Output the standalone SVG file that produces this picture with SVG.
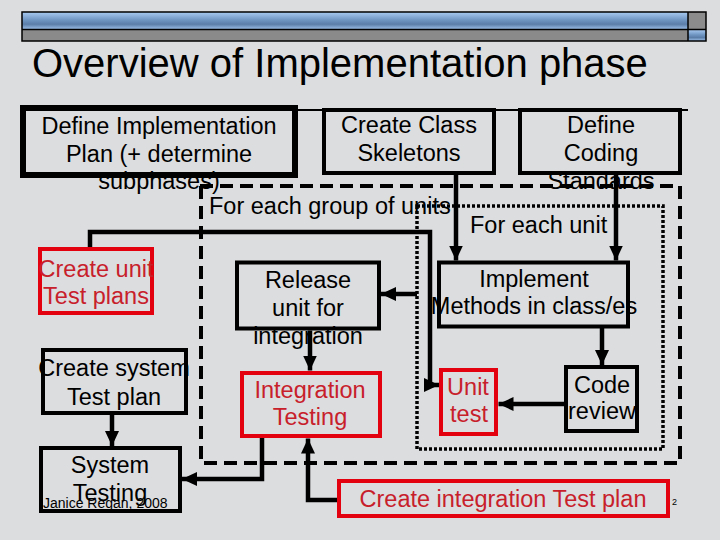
<svg xmlns="http://www.w3.org/2000/svg" width="720" height="540" viewBox="0 0 720 540">
<defs>
<linearGradient id="blue" x1="0" y1="0" x2="0" y2="1">
<stop offset="0" stop-color="#a9cbf2"/>
<stop offset="0.45" stop-color="#7096c2"/>
<stop offset="0.7" stop-color="#5a7ea8"/>
<stop offset="1" stop-color="#9fc3ec"/>
</linearGradient>
<marker id="ah" markerUnits="userSpaceOnUse" markerWidth="16" markerHeight="15" refX="15" refY="7" orient="auto">
<path d="M0,0 L15,7 L0,14 Z" fill="#000"/>
</marker>
<style>
text{font-family:"Liberation Sans",Arial,sans-serif;font-size:23.5px;fill:#000}
.c{text-anchor:middle}
.r{fill:#c8202b}
.box{fill:none;stroke:#000;stroke-width:4}
.rbox{fill:none;stroke:#e3000f;stroke-width:4}
.con{fill:none;stroke:#000;stroke-width:4.5;marker-end:url(#ah)}
.dash{fill:none;stroke:#000;stroke-width:4;stroke-dasharray:13 7}
.dot{fill:none;stroke:#000;stroke-width:3.5;stroke-dasharray:3 2}
</style>
</defs>
<rect width="720" height="540" fill="#dcdddf"/>
<g id="titlebar">
<rect x="22" y="12" width="666" height="17.5" fill="url(#blue)"/>
<rect x="22" y="29.5" width="666" height="11.5" fill="#8a8a8a"/>
<rect x="688" y="12" width="18" height="17.5" fill="#8c8c8c"/>
<rect x="688" y="29.5" width="18" height="11.5" fill="url(#blue)"/>
<rect x="22" y="12" width="684" height="29" fill="none" stroke="#000" stroke-width="1.5"/>
<line x1="22" y1="29.5" x2="706" y2="29.5" stroke="#000" stroke-width="1.5"/>
<line x1="688" y1="12" x2="688" y2="41" stroke="#000" stroke-width="1.5"/>
</g>
<text x="32" y="77" style="font-size:40px">Overview of Implementation phase</text>
<line x1="295" y1="110" x2="688" y2="110" stroke="#000" stroke-width="2"/>
<g id="regions">
<text x="209" y="214">For each group of units</text>
<text x="470" y="233">For each unit</text>
<path class="dash" d="M200,186 H680 V463 H201 V186"/>
<path class="dot" d="M417,206 H663 V449 H417 Z"/>
</g>
<g id="connectors">
<path class="con" d="M456,175 V260.5"/>
<path class="con" d="M616,175 V260.5"/>
<path class="con" d="M602,328 V365"/>
<path class="con" d="M564,404 H498.5"/>
<path class="con" d="M417,294 H381"/>
<path class="con" d="M310,330.5 V370.5"/>
<path class="con" d="M337,500 H308 V438.5"/>
<path class="con" d="M262,438 V479 H182"/>
<path class="con" d="M112,415 V446"/>
<path class="con" d="M90,247 V232 H430 V385 H439"/>
</g>
<g id="define-impl">
<rect x="23" y="108" width="272" height="67" fill="none" stroke="#000" stroke-width="6"/>
<text class="c" x="159" y="134">Define Implementation</text>
<text class="c" x="159" y="161.5">Plan (+ determine</text>
<text class="c" x="159" y="189">subphases)</text>
</g>
<g id="create-class">
<rect class="box" x="324" y="110" width="170" height="63"/>
<text class="c" x="409" y="133">Create Class</text>
<text class="c" x="409" y="161">Skeletons</text>
</g>
<g id="coding-standards">
<rect class="box" x="520" y="110" width="160" height="63"/>
<text class="c" x="601" y="133">Define</text>
<text class="c" x="601" y="161">Coding</text>
<text class="c" x="601" y="189">Standards</text>
</g>
<g id="unit-test-plans">
<rect class="rbox" x="40" y="249" width="112" height="64"/>
<text class="c r" x="96" y="277">Create unit</text>
<text class="c r" x="96" y="304">Test plans</text>
</g>
<g id="system-test-plan">
<rect class="box" x="43" y="350" width="143" height="63"/>
<text class="c" x="114" y="376">Create system</text>
<text class="c" x="114" y="405">Test plan</text>
</g>
<g id="system-testing">
<rect class="box" x="41" y="448" width="139" height="63"/>
<text class="c" x="110" y="473">System</text>
<text class="c" x="110" y="501">Testing</text>
<text x="43" y="508" style="font-size:14px">Janice Regan, 2008</text>
</g>
<g id="release">
<rect class="box" x="237" y="262.5" width="142" height="66"/>
<text class="c" x="308" y="288">Release</text>
<text class="c" x="308" y="316">unit for</text>
<text class="c" x="308" y="344">integration</text>
</g>
<g id="integration-testing">
<rect class="rbox" x="242" y="373" width="138" height="63"/>
<text class="c r" x="310" y="398">Integration</text>
<text class="c r" x="310" y="425">Testing</text>
</g>
<g id="implement">
<rect class="box" x="439" y="262.5" width="189" height="64"/>
<text class="c" x="534" y="287">Implement</text>
<text class="c" x="534" y="314">Methods in class/es</text>
</g>
<g id="code-review">
<rect class="box" x="566" y="367" width="71" height="64"/>
<text class="c" x="602" y="393">Code</text>
<text class="c" x="602" y="419">review</text>
</g>
<g id="unit-test">
<rect class="rbox" x="441" y="370" width="55" height="64"/>
<text class="c r" x="468" y="395">Unit</text>
<text class="c r" x="469" y="422">test</text>
</g>
<g id="integration-test-plan">
<rect class="rbox" x="339" y="481" width="329" height="35"/>
<text class="c r" x="503" y="507">Create integration Test plan</text>
</g>
<text x="672" y="505" style="font-size:9px">2</text>
</svg>
